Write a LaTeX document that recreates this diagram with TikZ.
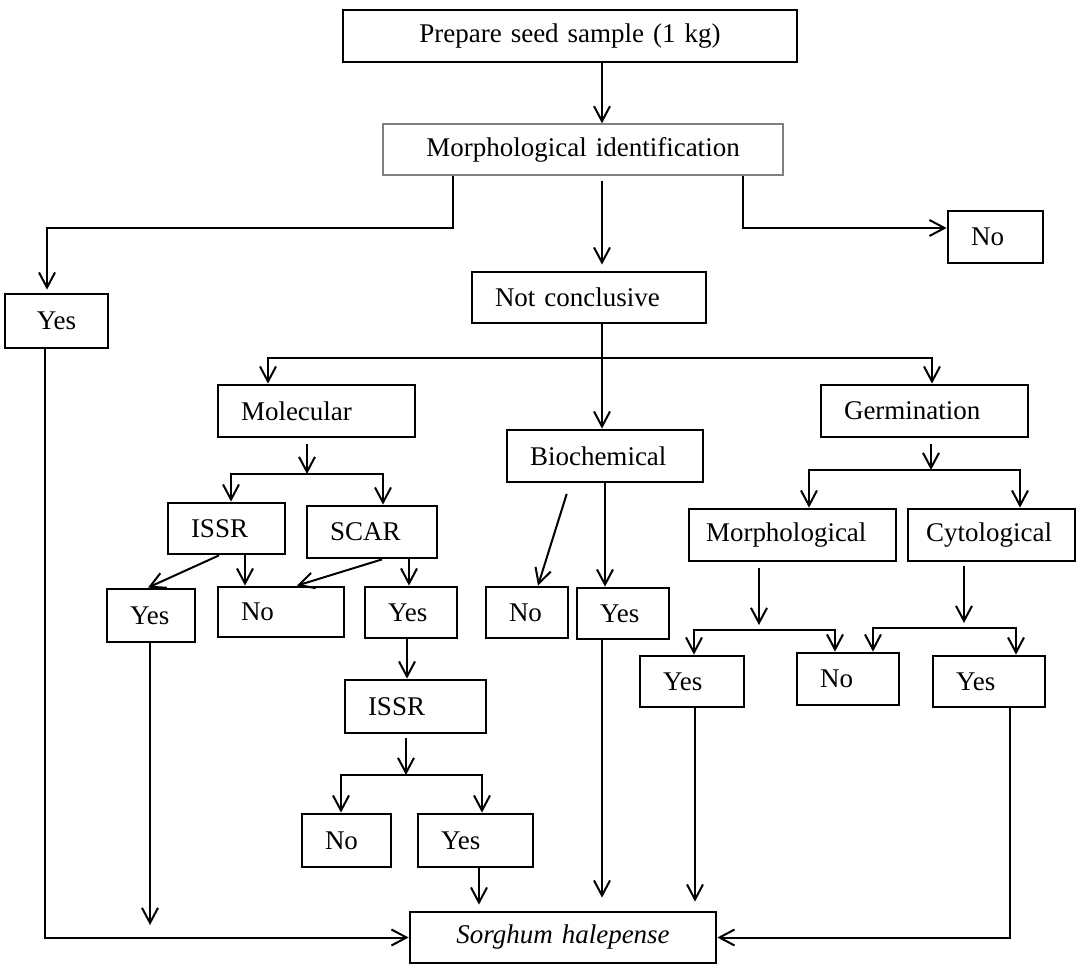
\documentclass[tikz,border=0pt]{standalone}
\usepackage{fontspec}
\setmainfont{Liberation Serif}
\usetikzlibrary{arrows.meta}

\begin{document}
\begin{tikzpicture}[x=1pt,y=-1pt,line width=2pt]
		\tikzstyle{box}=[draw,line width=2.8pt,minimum height=52pt,inner xsep=23pt,inner ysep=0pt,align=left,font=\fontsize{27}{32}\selectfont]
		\tikzstyle{arr}=[-{Straight Barb[length=15pt,width=16pt]}]
		\useasboundingbox (0,0) rectangle (1077,965);

		\node[box,align=center,text width=408pt] (prep) at (570,36) {Prepare seed sample (1 kg)};
		\node[box,align=center,text width=354pt,draw=gray,line width=1.4pt,minimum height=51pt] (morphid) at (583,149.5) {Morphological identification};
		\node[box,text width=49pt] (noT) at (995.5,237) {No};
		\node[box,align=center,text width=57pt,minimum height=54pt] (yesL) at (56.5,321) {Yes};
		\node[box,text width=188pt,minimum height=51pt] (nc) at (589,297.5) {Not conclusive};
		\node[box,text width=151pt] (mol) at (316.5,411) {Molecular};
		\node[box,text width=150pt] (bio) at (605,456) {Biochemical};
		\node[box,text width=161pt] (germ) at (924.5,411) {Germination};
		\node[box,text width=71pt,minimum height=51pt] (issrA) at (226.5,528.5) {ISSR};
		\node[box,text width=84pt] (scar) at (372,532) {SCAR};
		\node[box,text width=42pt,minimum height=53pt] (yesA) at (151,615.5) {Yes};
		\node[box,text width=80pt,minimum height=50pt] (noA) at (281,612) {No};
		\node[box,text width=46pt,minimum height=51pt] (yesB) at (411,612.5) {Yes};
		\node[box,text width=36pt,minimum height=51pt] (noB) at (527,612.5) {No};
		\node[box,text width=46pt,minimum height=51pt] (yesC) at (623,613.5) {Yes};
		\node[box,text width=173pt,inner xsep=17pt] (morph) at (792.5,535) {Morphological};
		\node[box,text width=131pt,inner xsep=18pt] (cyto) at (991.5,535) {Cytological};
		\node[box,text width=58pt,minimum height=51pt] (yesD) at (692,681.5) {Yes};
		\node[box,text width=56pt] (noC) at (848,679) {No};
		\node[box,text width=66pt,minimum height=51pt] (yesE) at (989,681.5) {Yes};
		\node[box,text width=95pt,minimum height=53pt] (issrB) at (415.5,706.5) {ISSR};
		\node[box,text width=43pt,minimum height=53pt] (noD) at (346.5,840.5) {No};
		\node[box,text width=69pt,minimum height=53pt] (yesF) at (475.5,840.5) {Yes};
		\node[box,align=center,text width=260pt,minimum height=51pt] (sorg) at (563,937.5) {\textit{Sorghum halepense}};

		\coordinate (splitA) at (602,358);
		\coordinate (splitB) at (307,474);
		\coordinate (splitC) at (931,470);
		\coordinate (splitD) at (759,630);
		\coordinate (splitE) at (964,628);
		\coordinate (splitF) at (406,775);
		\coordinate (endA) at (150,925);

		\draw[arr] (602,0 |- prep.south) -- (602,0 |- morphid.north);
		\draw[arr,shorten >=3pt] (453,0 |- morphid.south) |- (47,228) -- (47,0 |- yesL.north);
		\draw[arr,shorten <=5pt,shorten >=6pt] (602,0 |- morphid.south) -- (602,0 |- nc.north);
		\draw[arr] (743,0 |- morphid.south) |- (noT.west |- 0,228);
		\draw (602,0 |- nc.south) -- (splitA);
		\draw[arr] (splitA) -- (602,0 |- bio.north);
		\draw[arr] (splitA) -| (268,0 |- mol.north);
		\draw[arr] (splitA) -| (932,0 |- germ.north);

		\draw[arr,shorten <=6pt] (307,0 |- mol.south) -- (splitB);
		\draw[arr] (splitB) -| (231,0 |- issrA.north);
		\draw[arr] (splitB) -| (383,0 |- scar.north);
		\draw[arr] (219,0 |- issrA.south) -- (148,0 |- yesA.north);
		\draw[arr] (245,0 |- issrA.south) -- (245,0 |- noA.north);
		\draw[arr] (382,0 |- scar.south) -- (297,0 |- noA.north);
		\draw[arr] (409,0 |- scar.south) -- (409,0 |- yesB.north);
		\draw[arr,shorten <=11pt] (570,0 |- bio.south) -- (538,0 |- noB.north);
		\draw[arr] (605,0 |- bio.south) -- (605,0 |- yesC.north);

		\draw[arr,shorten <=6pt] (931,0 |- germ.south) -- (splitC);
		\draw[arr] (splitC) -| (809,0 |- morph.north);
		\draw[arr] (splitC) -| (1020,0 |- cyto.north);
		\draw[arr,shorten <=6pt,shorten >=5pt] (759,0 |- morph.south) -- (splitD);
		\draw[arr] (splitD) -| (694,0 |- yesD.north);
		\draw[arr] (splitD) -| (835,0 |- noC.north);
		\draw[arr,shorten <=4pt,shorten >=5pt] (964,0 |- cyto.south) -- (splitE);
		\draw[arr] (splitE) -| (873,0 |- noC.north);
		\draw[arr] (splitE) -| (1016,0 |- yesE.north);

		\draw[arr] (407,0 |- yesB.south) -- (407,0 |- issrB.north);
		\draw[arr,shorten <=4pt] (406,0 |- issrB.south) -- (splitF);
		\draw[arr] (splitF) -| (341,0 |- noD.north);
		\draw[arr] (splitF) -| (482,0 |- yesF.north);
		\draw[arr,shorten >=6pt] (479,0 |- yesF.south) -- (479,0 |- sorg.north);

		\draw[arr] (45,0 |- yesL.south) |- (sorg.west);
		\draw[arr] (150,0 |- yesA.south) -- (endA);
		\draw[arr,shorten >=13pt] (602,0 |- yesC.south) -- (602,0 |- sorg.north);
		\draw[arr,shorten >=9pt] (695,0 |- yesD.south) -- (695,0 |- sorg.north);
		\draw[arr] (1010,0 |- yesE.south) |- (sorg.east);

	\end{tikzpicture}
\end{document}
